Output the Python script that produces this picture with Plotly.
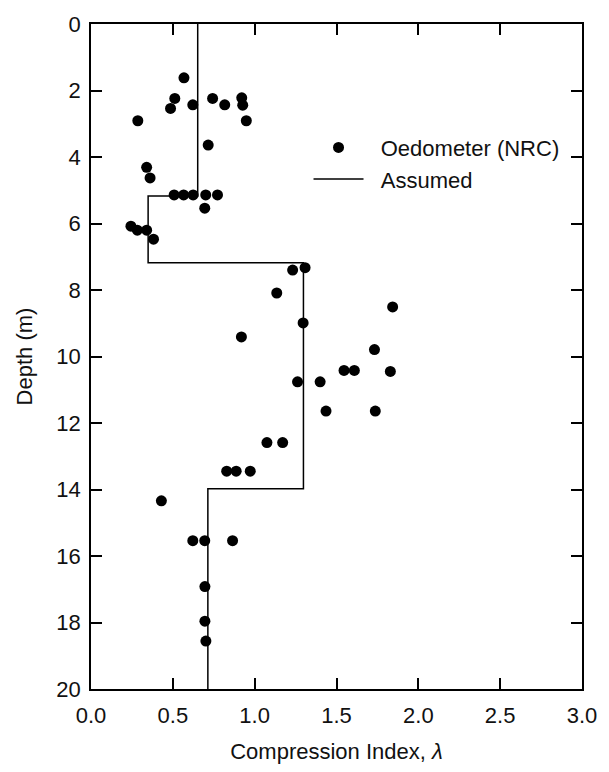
import plotly.graph_objects as go

# Oedometer (NRC) measurements
oedo_lambda = [0.568, 0.512, 0.486, 0.622, 0.743, 0.817, 0.921, 0.927, 0.949, 0.286,
               0.716, 0.340, 0.361, 0.508, 0.566, 0.624, 0.701, 0.773, 0.695,
               0.244, 0.283, 0.340, 0.382,
               1.232, 1.308, 1.135, 1.843, 1.296, 0.919, 1.732, 1.546, 1.609, 1.829,
               1.262, 1.400, 1.436, 1.737, 1.075, 1.171, 0.829, 0.887, 0.973,
               0.430, 0.622, 0.695, 0.865, 0.696, 0.696, 0.702]
oedo_depth = [1.62, 2.24, 2.54, 2.43, 2.24, 2.43, 2.22, 2.44, 2.91, 2.91,
              3.64, 4.31, 4.63, 5.14, 5.14, 5.14, 5.14, 5.14, 5.54,
              6.08, 6.20, 6.20, 6.47,
              7.40, 7.33, 8.09, 8.51, 8.99, 9.41, 9.79, 10.42, 10.42, 10.45,
              10.76, 10.76, 11.64, 11.64, 12.59, 12.59, 13.45, 13.45, 13.45,
              14.34, 15.54, 15.54, 15.54, 16.92, 17.96, 18.56]

# Assumed profile (step)
assumed_lambda = [0.652, 0.652, 0.349, 0.349, 1.298, 1.298, 0.714, 0.714]
assumed_depth = [0.0, 5.17, 5.17, 7.18, 7.18, 13.98, 13.98, 20.0]

x_ticks = [0.0, 0.5, 1.0, 1.5, 2.0, 2.5, 3.0]
y_ticks = [0, 2, 4, 6, 8, 10, 12, 14, 16, 18, 20]

FONT = "Liberation Sans, Arial, Helvetica, sans-serif"
TXT = "#111"

fig = go.Figure()
fig.add_trace(go.Scatter(x=oedo_lambda, y=oedo_depth, mode="markers",
                         name="\u00a0\u00a0Oedometer (NRC)",
                         marker=dict(color="black", size=11)))
fig.add_trace(go.Scatter(x=assumed_lambda, y=assumed_depth, mode="lines",
                         name="\u00a0\u00a0Assumed",
                         line=dict(color="black", width=1.5)))

axis_common = dict(showline=True, linecolor="black", linewidth=1.5, mirror="ticks",
                   ticks="inside", ticklen=11, tickwidth=1.5, tickcolor="black",
                   showgrid=False, zeroline=False,
                   tickfont=dict(family=FONT, size=22, color=TXT))

fig.update_xaxes(range=[0, 3], tickvals=x_ticks, tickformat=".1f",
                 title=dict(text="Compression Index, <i>λ</i>",
                            font=dict(family=FONT, size=22, color=TXT), standoff=16),
                 ticklabelstandoff=6,
                 **axis_common)
fig.update_yaxes(range=[20, 0], tickvals=y_ticks,
                 title=dict(text="Depth (m)", font=dict(family=FONT, size=22, color=TXT),
                            standoff=18),
                 ticklabelstandoff=4,
                 **axis_common)

fig.update_layout(
    width=609, height=772,
    margin=dict(l=91, r=19, t=19, b=80),
    plot_bgcolor="white", paper_bgcolor="white",
    showlegend=True,
    legend=dict(x=0.443, y=0.79, xanchor="left", yanchor="middle",
                font=dict(family=FONT, size=22, color=TXT),
                bgcolor="rgba(0,0,0,0)", itemwidth=50),
)

fig.write_html("out.html")
